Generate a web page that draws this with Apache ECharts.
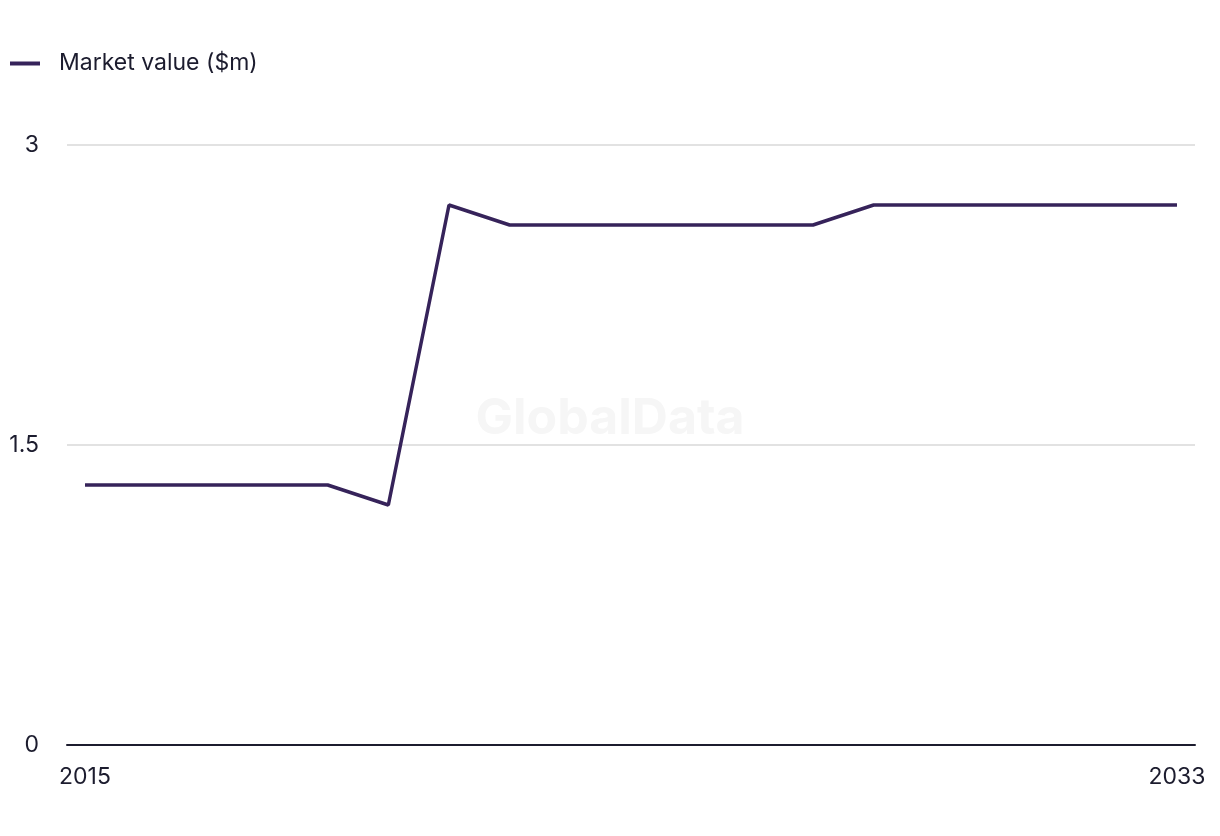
<!DOCTYPE html>
<html>
<head>
<meta charset="utf-8">
<script src="https://cdn.jsdelivr.net/npm/echarts@6/dist/echarts.min.js"></script>
<style>html,body{margin:0;padding:0;background:#fff;}#c{width:1220px;height:836px;}</style>
</head>
<body>
<div id="c"></div>
<script>
const years = [2015,2016,2017,2018,2019,2020,2021,2022,2023,2024,2025,2026,2027,2028,2029,2030,2031,2032,2033];
const marketValue = [1.3,1.3,1.3,1.3,1.3,1.2,2.7,2.6,2.6,2.6,2.6,2.6,2.6,2.7,2.7,2.7,2.7,2.7,2.7];
const xTickLabels = [2015, 2033];
const yTicks = [0, 1.5, 3];
const seriesName = 'Market value ($m)';

const chart = echarts.init(document.getElementById('c'), null, {renderer: 'canvas'});
const font = 'Inter, "Noto Sans", sans-serif';
const textColor = '#1c1c2e';
const lineColor = '#36235a';
chart.setOption({
  animation: false,
  backgroundColor: '#fff',
  textStyle: {fontFamily: font},
  graphic: [{
    type: 'text', left: 'center', top: 394,
    style: {text: 'GlobalData', fontSize: 50, fontWeight: 'bold', fill: '#f6f6f6', fontFamily: 'Inter, sans-serif'},
    z: 0
  }],
  legend: {
    left: 5, top: 47,
    itemWidth: 30, itemHeight: 4,
    icon: 'rect',
    textStyle: {fontSize: 23, color: textColor, fontFamily: font, padding: [0,0,0,14]},
    data: [seriesName]
  },
  grid: {left: 67, right: 25, top: 145, bottom: 91, containLabel: false},
  xAxis: {
    type: 'value',
    min: 2014.703, max: 2033.297,
    axisLine: {show: true, lineStyle: {color: '#1c1c2e', width: 2}},
    axisTick: {show: false},
    splitLine: {show: false},
    axisLabel: {customValues: xTickLabels, fontSize: 23, color: textColor, margin: 21, formatter: v => String(v)}
  },
  yAxis: {
    type: 'value', min: 0, max: 3, interval: 1.5,
    axisLine: {show: false}, axisTick: {show: false},
    splitLine: {lineStyle: {color: '#d9d9d9', width: 1.5}},
    axisLabel: {fontSize: 23, color: textColor, margin: 28, formatter: v => yTicks.includes(v) ? String(v) : ''}
  },
  series: [{
    name: seriesName, type: 'line',
    data: years.map((y, i) => [y, marketValue[i]]),
    showSymbol: false, symbol: 'none',
    lineStyle: {color: lineColor, width: 3.5},
    itemStyle: {color: lineColor},
    z: 3
  }]
});
</script>
</body>
</html>
